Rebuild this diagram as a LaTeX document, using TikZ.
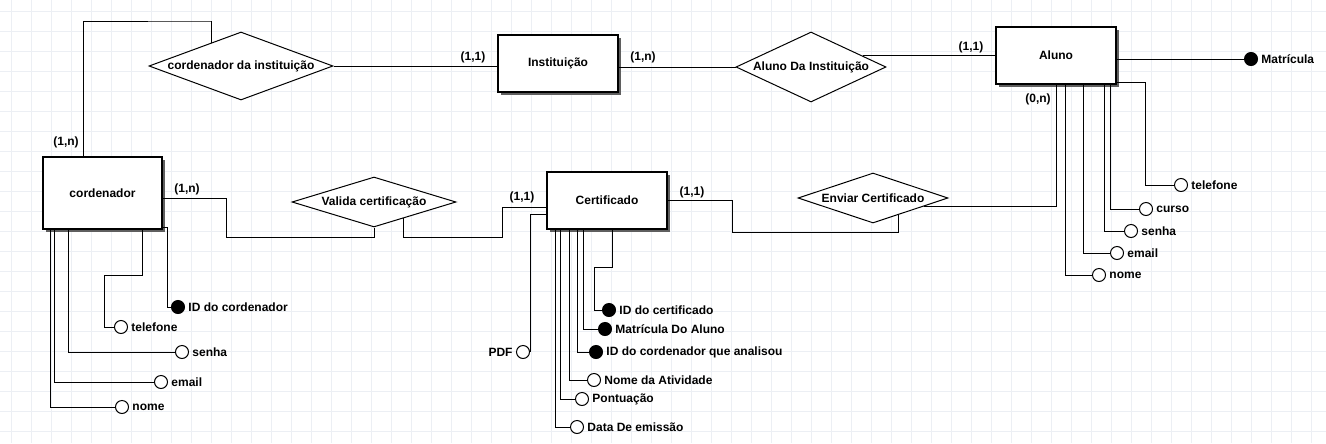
\documentclass[tikz,border=0pt]{standalone}
\usepackage{fontspec}
\setmainfont{Liberation Sans}
\usetikzlibrary{shapes.geometric,calc,shadows}
\definecolor{gridc}{RGB}{236,239,244}
\definecolor{shadowc}{RGB}{95,95,95}
\begin{document}
\begin{tikzpicture}[x=0.75pt,y=-0.75pt,
  font=\fontsize{9}{10}\selectfont\bfseries,
  entity/.style={draw, line width=0.9pt, fill=white, minimum width=90pt, minimum height=42.75pt, inner sep=0pt,
     general shadow={fill=shadowc, shadow xshift=2.25pt, shadow yshift=-2.25pt}},
  rel/.style={draw, shape=diamond, inner sep=0pt, line width=0.75pt, fill=white},
  attr/.style={draw, circle, minimum size=9.75pt, inner sep=0pt, line width=0.75pt, fill=white},
  keyattr/.style={attr, fill=black},
  lbl/.style={inner sep=1pt},
  albl/.style={inner sep=2.4pt, anchor=west},
  conn/.style={line width=0.75pt},
]
\fill[white] (0,0) rectangle (1326,443);
\useasboundingbox (0,0) rectangle (1326,443);
% grid
\foreach \i in {0,...,65} \draw[gridc, line width=0.75pt] (11.5+20*\i,0) -- (11.5+20*\i,443);
\foreach \j in {0,...,21} \draw[gridc, line width=0.75pt] (0,11.5+20*\j) -- (1326,11.5+20*\j);

% entities
\node[entity, minimum width=89.25pt, minimum height=54pt] (cord) at (102.5,193) {cordenador};
\node[entity] (inst) at (558,63.5) {Instituição};
\node[entity] (aluno) at (1056,55.5) {Aluno};
\node[entity] (cert) at (607,200.5) {Certificado};

% relationships
\node[rel, minimum width=138pt, minimum height=51pt] (cdi) at (241,66) {};
\node[lbl] (cdi-t) at (cdi) {cordenador da instituição};
\node[rel, minimum width=123pt, minimum height=37.5pt] (vc) at (374,202) {};
\node[lbl] (vc-t) at (vc) {Valida certificação};
\node[rel, minimum width=112.5pt, minimum height=52.5pt] (aid) at (811,67) {};
\node[lbl] (aid-t) at (aid) {Aluno Da Instituição};
\node[rel, minimum width=112.5pt, minimum height=37.5pt] (enc) at (873,198) {};
\node[lbl] (enc-t) at (enc) {Enviar Certificado};

% attributes of cordenador
\node[attr] (c-nome) at (122,407) {};
\node[albl] (c-nome-t) at (c-nome.east) {nome};
\node[attr] (c-email) at (161,382) {};
\node[albl] (c-email-t) at (c-email.east) {email};
\node[attr] (c-senha) at (182,352) {};
\node[albl] (c-senha-t) at (c-senha.east) {senha};
\node[attr] (c-tel) at (121,327) {};
\node[albl] (c-tel-t) at (c-tel.east) {telefone};
\node[keyattr] (c-id) at (178,307) {};
\node[albl] (c-id-t) at (c-id.east) {ID do cordenador};

% attributes of Aluno
\node[attr] (a-nome) at (1099,275) {};
\node[albl] (a-nome-t) at (a-nome.east) {nome};
\node[attr] (a-email) at (1117,253) {};
\node[albl] (a-email-t) at (a-email.east) {email};
\node[attr] (a-senha) at (1131,231) {};
\node[albl] (a-senha-t) at (a-senha.east) {senha};
\node[attr] (a-curso) at (1146,209) {};
\node[albl] (a-curso-t) at (a-curso.east) {curso};
\node[attr] (a-tel) at (1181,185) {};
\node[albl] (a-tel-t) at (a-tel.east) {telefone};
\node[keyattr] (a-mat) at (1251,59) {};
\node[albl] (a-mat-t) at (a-mat.east) {Matrícula};

% attributes of Certificado
\node[attr] (t-data) at (577,427) {};
\node[albl] (t-data-t) at (t-data.east) {Data De emissão};
\node[attr] (t-pont) at (582,399) {};
\node[albl] (t-pont-t) at (t-pont.east) {Pontuação};
\node[attr] (t-nome) at (594,380) {};
\node[albl] (t-nome-t) at (t-nome.east) {Nome da Atividade};
\node[keyattr] (t-idc) at (596,352) {};
\node[albl] (t-idc-t) at (t-idc.east) {ID do cordenador que analisou};
\node[keyattr] (t-mat) at (605,329) {};
\node[albl] (t-mat-t) at (t-mat.east) {Matrícula Do Aluno};
\node[keyattr] (t-id) at (609,310) {};
\node[albl] (t-id-t) at (t-id.east) {ID do certificado};
\node[attr] (t-pdf) at (523,352) {};
\node[inner sep=2.4pt, anchor=east] (t-pdf-t) at (t-pdf.west) {PDF};

% cardinalities
\node[lbl] (k1) at (66,142) {(1,n)};
\node[lbl] (k2) at (187,189) {(1,n)};
\node[lbl] (k3) at (473,57) {(1,1)};
\node[lbl] (k4) at (643,57) {(1,n)};
\node[lbl] (k5) at (971,47) {(1,1)};
\node[lbl] (k6) at (1038,99) {(0,n)};
\node[lbl] (k7) at (522,197) {(1,1)};
\node[lbl] (k8) at (692,192) {(1,1)};

% relationship connectors
\draw[conn] ($(cord.north west)+(41,0)$) |- (211,21) -| (cdi.142.6);
\draw[conn] (cdi.east) -- (cdi.east -| inst.west);
\draw[conn] (aid.west -| inst.east) -- (aid.west);
\draw[conn] (aid.12.4) -- (aid.12.4 -| aluno.west);
\draw[conn] (aluno.south) |- (enc.-9.4);
\draw[conn] (cert.east) -| (732,232) -| (enc.-33.7);
\draw[conn] ($(cord.east)+(0,5)$) -| (226,237) -| (vc.south);
\draw[conn] (vc.-29.2) |- (502,237) |- ($(cert.west)+(0,6.5)$);

% attribute connectors: cordenador
\draw[conn] ($(cord.south west)+(8,0)$) |- (c-nome);
\draw[conn] ($(cord.south west)+(12,0)$) |- (c-email);
\draw[conn] ($(cord.south west)+(26,0)$) |- (c-senha);
\draw[conn] ($(cord.south west)+(100,0)$) |- (104,275) |- (c-tel);
\draw[conn] ($(cord.south east)+(0,-2)$) -| (167,307) -- (c-id);

% attribute connectors: Aluno
\draw[conn] ($(aluno.south west)+(70,0)$) |- (a-nome);
\draw[conn] ($(aluno.south west)+(88,0)$) |- (a-email);
\draw[conn] ($(aluno.south west)+(109,0)$) |- (a-senha);
\draw[conn] ($(aluno.south west)+(115,0)$) |- (a-curso);
\draw[conn] ($(aluno.south east)+(0,-2)$) -| (1145,185) -- (a-tel);
\draw[conn] ($(aluno.east)+(0,3.5)$) -- (a-mat);

% attribute connectors: Certificado
\draw[conn] ($(cert.south west)+(9,0)$) |- (t-data);
\draw[conn] ($(cert.south west)+(14,0)$) |- (t-pont);
\draw[conn] ($(cert.south west)+(23,0)$) |- (t-nome);
\draw[conn] ($(cert.south west)+(31,0)$) |- (t-idc);
\draw[conn] ($(cert.south west)+(37,0)$) |- (t-mat);
\draw[conn] ($(cert.south west)+(66,0)$) |- (594,267) |- (t-id);
\draw[conn] ($(cert.west)+(0,13.5)$) -| (t-pdf.east);
\end{tikzpicture}
\end{document}
